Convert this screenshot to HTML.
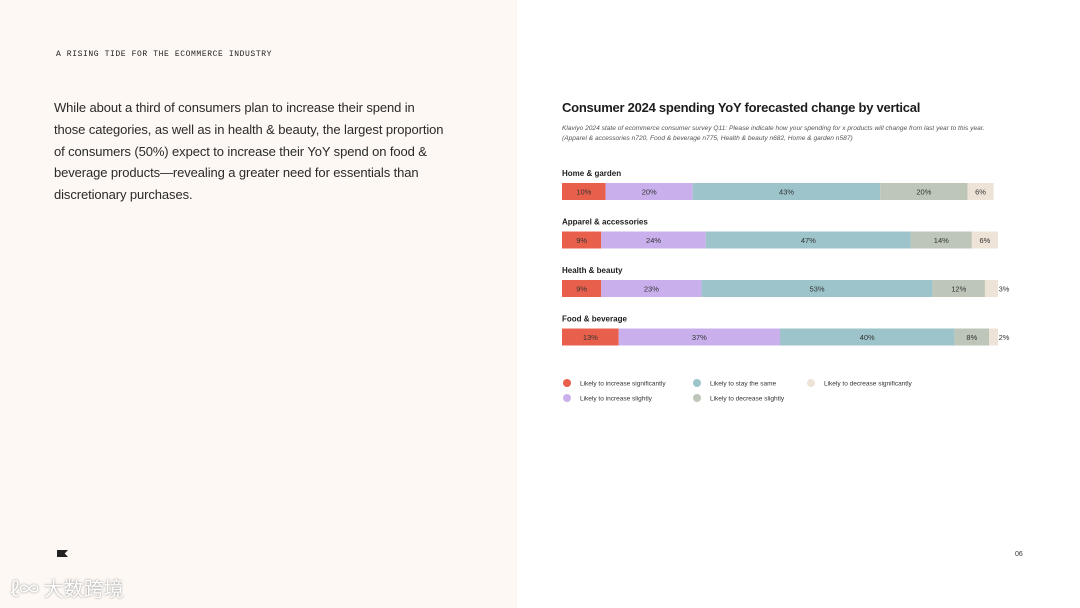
<!DOCTYPE html>
<html><head><meta charset="utf-8"><style>
body{margin:0;width:1080px;height:608px;overflow:hidden;font-family:"Liberation Sans",sans-serif;background:#fff;position:relative}
.left{position:absolute;left:0;top:0;width:517px;height:608px;background:#fdf8f3}
.kicker{position:absolute;left:56px;top:50px;font-family:"Liberation Mono",monospace;font-size:8px;letter-spacing:0.6px;color:#222}
.body{position:absolute;left:54px;top:97px;width:440px;white-space:nowrap;font-size:13px;letter-spacing:-0.1px;line-height:21.8px;color:#2a2a2a}
.title{position:absolute;left:562px;top:100px;font-size:13px;letter-spacing:-0.25px;font-weight:bold;color:#1d1d1d}
.sub{position:absolute;left:562px;top:124px;width:428px;font-size:6.6px;line-height:9.5px;font-style:italic;color:#555}
.wm{position:absolute;left:10px;top:573px;font-family:"Noto Sans CJK SC",sans-serif;font-size:20px;color:#fff;text-shadow:0 0 2px #888}
</style></head><body>
<div class="left"></div>
<div class="kicker">A RISING TIDE FOR THE ECOMMERCE INDUSTRY</div>
<div class="body">While about a third of consumers plan to increase their spend in<br>those categories, as well as in health &amp; beauty, the largest proportion<br>of consumers (50%) expect to increase their YoY spend on food &amp;<br>beverage products—revealing a greater need for essentials than<br>discretionary purchases.</div>
<div style="position:absolute;left:57px;top:550px;width:11px;height:7px;background:#222;clip-path:polygon(0 0,100% 0,70% 50%,100% 100%,0 100%)"></div>
<div class="wm">ℓ∞ 大数跨境</div>
<div style="position:absolute;left:1015px;top:551px;font-size:7px;color:#333">06</div>
<div class="title">Consumer 2024 spending YoY forecasted change by vertical</div>
<div class="sub">Klaviyo 2024 state of ecommerce consumer survey Q11: Please indicate how your spending for x products will change from last year to this year. (Apparel &amp; accessories n720, Food &amp; beverage n775, Health &amp; beauty n682, Home &amp; garden n587)</div>
<svg id="chart" width="1080" height="608" style="position:absolute;left:0;top:0"></svg>
<script>
const categories=["Home & garden","Apparel & accessories","Health & beauty","Food & beverage"];
const incSig=[10,9,9,13];
const incSl=[20,24,23,37];
const same=[43,47,53,40];
const decSl=[20,14,12,8];
const decSig=[6,6,3,2];
const seriesNames=["Likely to increase significantly","Likely to increase slightly","Likely to stay the same","Likely to decrease slightly","Likely to decrease significantly"];
const series=[incSig,incSl,same,decSl,decSig];
const colors=["#e8604c","#c9b0ec","#9dc4cb","#bdc6b8","#ede3d6"];
const svg=document.getElementById('chart');const NS="http://www.w3.org/2000/svg";
const x0=562,scale=4.36;const xs=v=>v*scale;
const rowY=i=>183+i*48.5;
function mk(t,a){const e=document.createElementNS(NS,t);for(const k in a)e.setAttribute(k,a[k]);svg.appendChild(e);return e;}
categories.forEach((c,i)=>{
 const y=rowY(i);
 const l=mk('text',{x:x0,y:y-7,'font-size':8,'font-weight':'bold',fill:'#1d1d1d','font-family':'Liberation Sans'});l.textContent=c;
 
 
 let acc=0;
 series.forEach((s,j)=>{
  const v=s[i];const bx=x0+xs(acc);const w=xs(v);
  const r=mk('rect',{x:bx,y:y,width:w,height:17,fill:colors[j]});
  
  
  const t=mk('text',{x:v<4?bx+w+6:bx+w/2,y:y+11.5,'font-size':7.5,'text-anchor':'middle',fill:'#333','font-family':'Liberation Sans'});t.textContent=v+'%';
  
  
  acc+=v;
 });
});
const legPos=[[567,383],[567,398],[697,383],[697,398],[811,383]];
seriesNames.forEach((n,j)=>{
 const[lx,ly]=legPos[j];
 const c=mk('circle',{cx:lx,cy:ly,r:4,fill:colors[j]});
 
 
 const t=mk('text',{x:lx+13,y:ly+2.5,'font-size':6.5,fill:'#333','font-family':'Liberation Sans'});t.textContent=n;
 
 
});
</script>
</body></html>
